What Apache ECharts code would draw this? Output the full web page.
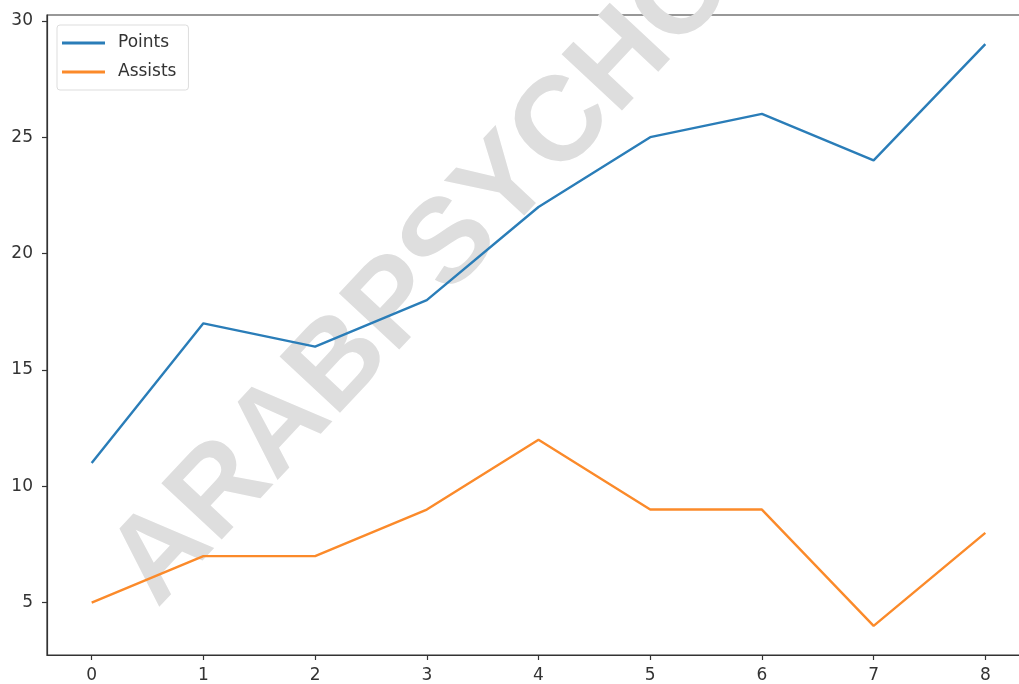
<!DOCTYPE html>
<html>
<head>
<meta charset="utf-8">
<script src="https://cdn.jsdelivr.net/npm/echarts@6/dist/echarts.min.js"></script>
<style>html,body{margin:0;padding:0;background:#fff;}#c{width:1019px;height:684px;}</style>
</head>
<body>
<div id="c"></div>
<script>
const xValues = [0, 1, 2, 3, 4, 5, 6, 7, 8];
const points = [11, 17, 16, 18, 22, 25, 26, 24, 29];
const assists = [5, 7, 7, 9, 12, 9, 9, 4, 8];
const xTicks = [0, 1, 2, 3, 4, 5, 6, 7, 8];
const yTicks = [5, 10, 15, 20, 25, 30];
const seriesNames = ['Points', 'Assists'];
const watermark = 'ARABPSYCHOLOGY';

const chart = echarts.init(document.getElementById('c'), null, {renderer: 'canvas'});
const font = 'DejaVu Sans';
const axisCommon = {
  axisLine: {show: true, onZero: false, lineStyle: {color: '#333', width: 1.2}},
  axisTick: {show: true, length: 5, lineStyle: {color: '#333', width: 1.2}},
  splitLine: {show: false},
  axisLabel: {color: '#333', fontFamily: font, fontSize: 17}
};
chart.setOption({
  animation: false,
  backgroundColor: '#fff',
  grid: {left: 47, top: 15, width: 983, height: 640, outerBoundsMode: 'none', containLabel: false, show: true, borderColor: '#333', borderWidth: 1.2, backgroundColor: 'transparent'},
  graphic: [{
    type: 'text', x: 540, y: 150, rotation: 47 * Math.PI / 180, z: 0, silent: true,
    style: {text: watermark, fill: '#dedede', font: 'bold 120px "Liberation Sans"', textAlign: 'center', textVerticalAlign: 'middle'}
  }],
  legend: {
    orient: 'vertical', left: 57, top: 25,
    padding: [8, 12, 8, 5], itemGap: 9,
    itemWidth: 43, itemHeight: 3,
    borderColor: '#ddd', borderWidth: 1, borderRadius: 3,
    backgroundColor: 'rgba(255,255,255,0.8)',
    textStyle: {fontFamily: font, fontSize: 17, color: '#333', lineHeight: 20, padding: [0, 0, 0, 8]},
    data: seriesNames.map(n => ({name: n, icon: 'rect'}))
  },
  xAxis: Object.assign({}, axisCommon, {
    type: 'value', min: -0.4, max: 8.4,
    axisTick: Object.assign({}, axisCommon.axisTick, {customValues: xTicks}),
    axisLabel: Object.assign({}, axisCommon.axisLabel, {customValues: xTicks, margin: 12})
  }),
  yAxis: Object.assign({}, axisCommon, {
    type: 'value', min: 2.75, max: 30.25,
    axisTick: Object.assign({}, axisCommon.axisTick, {customValues: yTicks}),
    axisLabel: Object.assign({}, axisCommon.axisLabel, {customValues: yTicks, margin: 14})
  }),
  series: [
    {name: seriesNames[0], type: 'line', data: xValues.map((x, i) => [x, points[i]]), showSymbol: false, symbol: 'none', lineStyle: {color: '#2a7db8', width: 2.4}, itemStyle: {color: '#2a7db8'}, z: 3},
    {name: seriesNames[1], type: 'line', data: xValues.map((x, i) => [x, assists[i]]), showSymbol: false, symbol: 'none', lineStyle: {color: '#fb8a2a', width: 2.4}, itemStyle: {color: '#fb8a2a'}, z: 3}
  ]
});
</script>
</body>
</html>
